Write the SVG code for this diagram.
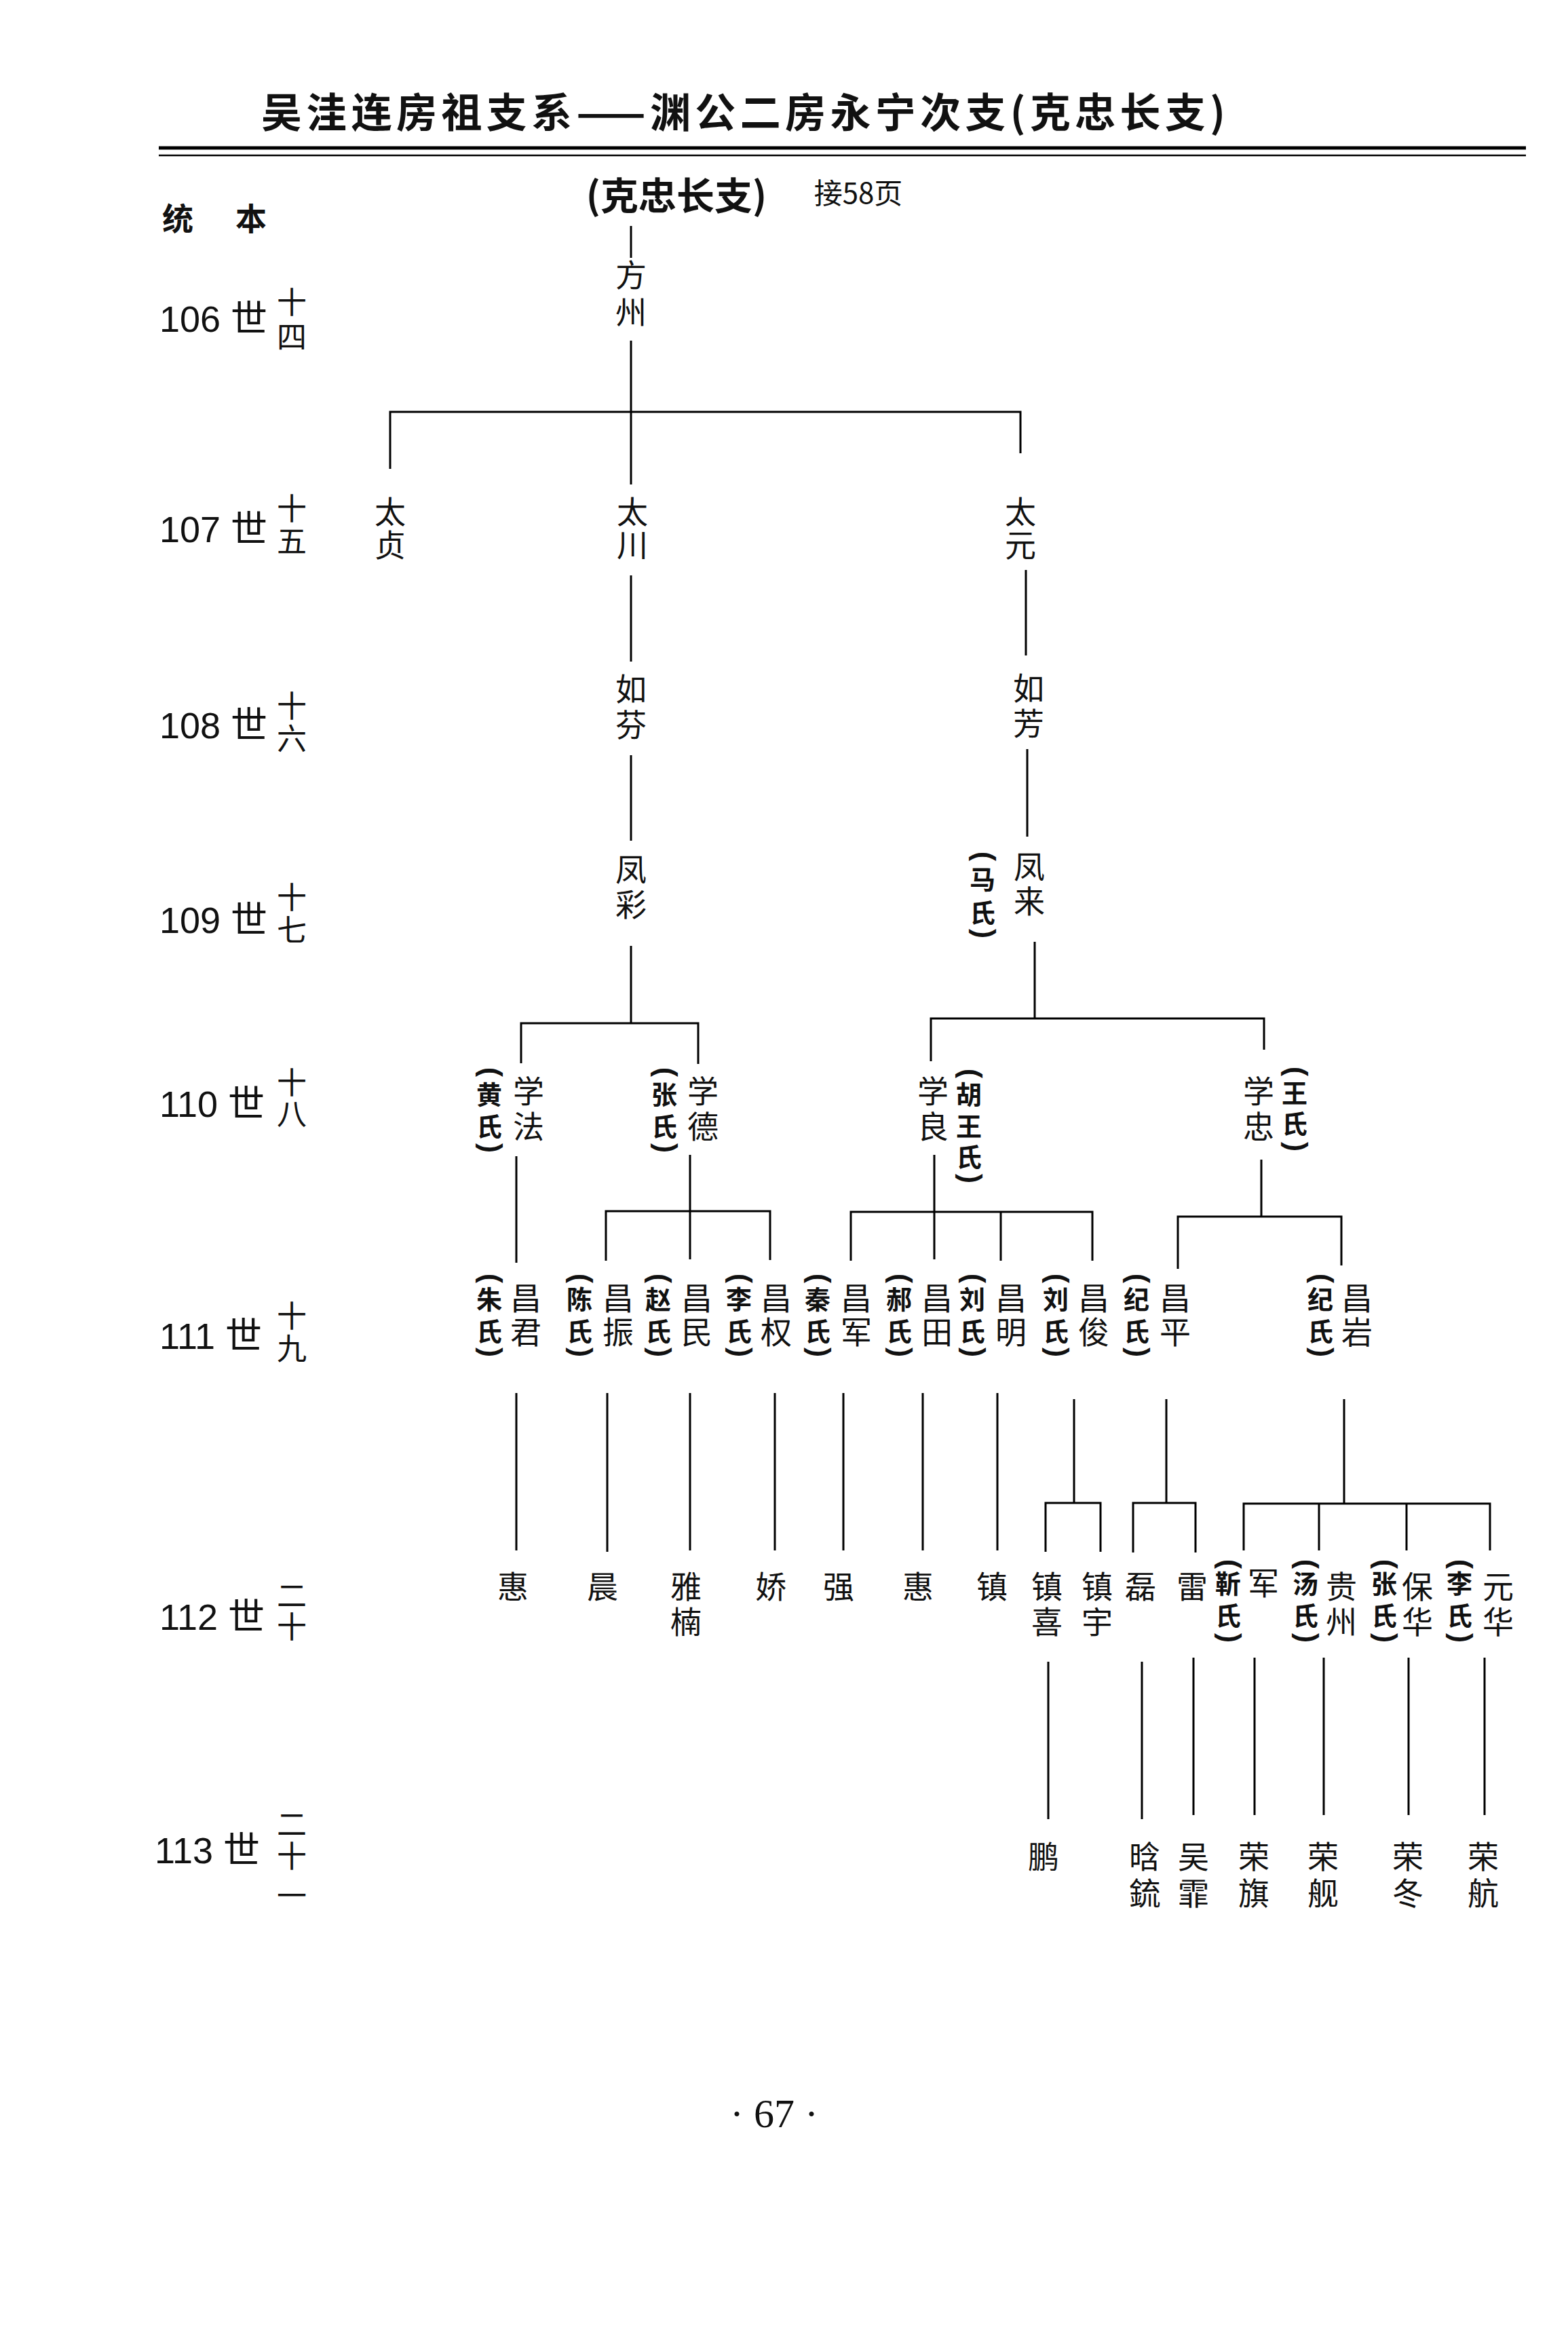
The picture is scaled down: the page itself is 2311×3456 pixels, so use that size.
<svg xmlns="http://www.w3.org/2000/svg" width="2311" height="3456" viewBox="0 0 2311 3456">
<style>
text{fill:#111}
.nm{font-family:"Noto Sans CJK SC","Noto Sans CJK TC",sans-serif;font-size:46px;text-anchor:middle}
.wf{font-family:"Noto Sans CJK SC","Noto Sans CJK TC",sans-serif;font-size:38px;font-weight:bold;text-anchor:middle}
.pl{font-family:"Liberation Sans",sans-serif;font-size:42px;font-weight:bold;text-anchor:middle}
.gen{font-family:"Liberation Sans","Noto Sans CJK SC",sans-serif;font-size:54px}
.ord{font-family:"Noto Sans CJK SC",sans-serif;font-size:44px;text-anchor:middle}
.ln{stroke:#000;stroke-width:3;fill:none}
</style>
<g id="header">
<text x="385" y="188" textLength="1421" lengthAdjust="spacing" style="font-family:'Noto Sans CJK SC',sans-serif;font-size:60px;font-weight:bold">吴洼连房祖支系——渊公二房永宁次支(克忠长支)</text>
<line x1="234" y1="218" x2="2249" y2="218" stroke="#000" stroke-width="5"/>
<line x1="234" y1="229" x2="2249" y2="229" stroke="#000" stroke-width="2.5"/>
<text x="262" y="339" style="font-family:'Noto Sans CJK SC',sans-serif;font-size:46px;font-weight:bold;text-anchor:middle">统</text>
<text x="370" y="339" style="font-family:'Noto Sans CJK SC',sans-serif;font-size:46px;font-weight:bold;text-anchor:middle">本</text>
<text x="997" y="309" style="font-family:'Noto Sans CJK SC',sans-serif;font-size:56px;font-weight:bold;text-anchor:middle">(克忠长支)</text>
<text x="1265" y="300" style="font-family:'Noto Sans CJK SC',sans-serif;font-size:42px;text-anchor:middle">接58页</text>
</g>
<g id="generations">
<text class="gen" x="235" y="489">106 世</text>
<text class="ord" x="430"><tspan x="430" y="462">十</tspan><tspan x="430" y="513">四</tspan></text>
<text class="gen" x="235" y="799">107 世</text>
<text class="ord" x="430"><tspan x="430" y="766">十</tspan><tspan x="430" y="814">五</tspan></text>
<text class="gen" x="235" y="1088">108 世</text>
<text class="ord" x="430"><tspan x="430" y="1057">十</tspan><tspan x="430" y="1105">六</tspan></text>
<text class="gen" x="235" y="1375">109 世</text>
<text class="ord" x="430"><tspan x="430" y="1339">十</tspan><tspan x="430" y="1387">七</tspan></text>
<text class="gen" x="235" y="1646">110 世</text>
<text class="ord" x="430"><tspan x="430" y="1612">十</tspan><tspan x="430" y="1658">八</tspan></text>
<text class="gen" x="235" y="1988">111 世</text>
<text class="ord" x="430"><tspan x="430" y="1956">十</tspan><tspan x="430" y="2004">九</tspan></text>
<text class="gen" x="235" y="2402">112 世</text>
<text class="ord" x="430"><tspan x="430" y="2368">二</tspan><tspan x="430" y="2414">十</tspan></text>
<text class="gen" x="228" y="2746">113 世</text>
<text class="ord" x="430"><tspan x="430" y="2705">二</tspan><tspan x="430" y="2752">十</tspan><tspan x="430" y="2810">一</tspan></text>
</g>
<g id="connectors" class="ln">
<path d="M930 333V380"/>
<path d="M930 502V714M575 691V607H1504V668"/>
<path d="M930 848V975"/>
<path d="M1512 840V966"/>
<path d="M930 1113V1239"/>
<path d="M1514 1104V1233"/>
<path d="M930 1394V1508M768 1567V1508H1029V1568"/>
<path d="M1525 1388V1501M1372 1564V1501H1863V1547"/>
<path d="M761 1704V1861"/>
<path d="M1017 1702V1856M893 1858V1785H1135V1857"/>
<path d="M1377 1702V1856M1254 1858V1786H1610V1858M1475 1786V1858"/>
<path d="M1859 1709V1793M1736 1870V1793H1977V1865"/>
<path d="M761 2053V2285M895 2053V2287M1017 2053V2285M1142 2053V2285M1243 2053V2285M1360 2053V2285M1470 2053V2285"/>
<path d="M1583 2062V2215M1541 2287V2215H1622V2287"/>
<path d="M1719 2062V2215M1670 2288V2215H1762V2288"/>
<path d="M1981 2062V2216M1833 2285V2216H2196V2285M1944 2216V2285M2073 2216V2285"/>
<path d="M1545 2449V2681M1683 2449V2681M1759 2443V2675M1849 2443V2675M1951 2443V2675M2076 2443V2675M2188 2443V2675"/>
</g>
<g id="n-fangzhou"><text class="nm"><tspan x="930" y="422">方</tspan><tspan x="930" y="477">州</tspan></text></g>
<g id="n-taizhen"><text class="nm"><tspan x="575" y="771">太</tspan><tspan x="575" y="820">贞</tspan></text></g>
<g id="n-taichuan"><text class="nm"><tspan x="932" y="771">太</tspan><tspan x="932" y="820">川</tspan></text></g>
<g id="n-taiyuan"><text class="nm"><tspan x="1504" y="771">太</tspan><tspan x="1504" y="820">元</tspan></text></g>
<g id="n-rufen"><text class="nm"><tspan x="930" y="1032">如</tspan><tspan x="930" y="1085">芬</tspan></text></g>
<g id="n-rufang"><text class="nm"><tspan x="1516" y="1031">如</tspan><tspan x="1516" y="1083">芳</tspan></text></g>
<g id="n-fengcai"><text class="nm"><tspan x="930" y="1298">凤</tspan><tspan x="930" y="1350">彩</tspan></text></g>
<g id="n-fenglai"><text class="nm"><tspan x="1517" y="1294">凤</tspan><tspan x="1517" y="1345">来</tspan></text>
<text class="pl" x="1448" y="1273" transform="rotate(90 1448 1262)">(</text><text class="wf"><tspan x="1448" y="1310">马</tspan><tspan x="1448" y="1359">氏</tspan></text><text class="pl" x="1448" y="1387" transform="rotate(90 1448 1376)">)</text></g>
<g id="n-xuefa"><text class="nm"><tspan x="779" y="1625">学</tspan><tspan x="779" y="1677">法</tspan></text>
<text class="pl" x="721" y="1591" transform="rotate(90 721 1580)">(</text><text class="wf"><tspan x="721" y="1627">黄</tspan><tspan x="721" y="1674">氏</tspan></text><text class="pl" x="721" y="1703" transform="rotate(90 721 1692)">)</text></g>
<g id="n-xuede"><text class="nm"><tspan x="1036" y="1625">学</tspan><tspan x="1036" y="1677">德</tspan></text>
<text class="pl" x="979" y="1591" transform="rotate(90 979 1580)">(</text><text class="wf"><tspan x="979" y="1627">张</tspan><tspan x="979" y="1674">氏</tspan></text><text class="pl" x="979" y="1703" transform="rotate(90 979 1692)">)</text></g>
<g id="n-xueliang"><text class="nm"><tspan x="1375" y="1625">学</tspan><tspan x="1375" y="1677">良</tspan></text>
<text class="pl" x="1428" y="1593" transform="rotate(90 1428 1582)">(</text><text class="wf"><tspan x="1428" y="1627">胡</tspan><tspan x="1428" y="1674">王</tspan><tspan x="1428" y="1719">氏</tspan></text><text class="pl" x="1428" y="1748" transform="rotate(90 1428 1737)">)</text></g>
<g id="n-xuezhong"><text class="nm"><tspan x="1855" y="1625">学</tspan><tspan x="1855" y="1677">忠</tspan></text>
<text class="pl" x="1908" y="1590" transform="rotate(90 1908 1579)">(</text><text class="wf"><tspan x="1908" y="1625">王</tspan><tspan x="1908" y="1670">氏</tspan></text><text class="pl" x="1908" y="1701" transform="rotate(90 1908 1690)">)</text></g>
<g id="n-changjun"><text class="nm"><tspan x="775" y="1930">昌</tspan><tspan x="775" y="1980">君</tspan></text>
<text class="pl" x="721" y="1895" transform="rotate(90 721 1884)">(</text><text class="wf"><tspan x="721" y="1929">朱</tspan><tspan x="721" y="1976">氏</tspan></text><text class="pl" x="721" y="2004" transform="rotate(90 721 1993)">)</text></g>
<g id="n-changzhen"><text class="nm"><tspan x="911" y="1930">昌</tspan><tspan x="911" y="1980">振</tspan></text>
<text class="pl" x="854" y="1895" transform="rotate(90 854 1884)">(</text><text class="wf"><tspan x="854" y="1929">陈</tspan><tspan x="854" y="1976">氏</tspan></text><text class="pl" x="854" y="2004" transform="rotate(90 854 1993)">)</text></g>
<g id="n-changmin"><text class="nm"><tspan x="1027" y="1930">昌</tspan><tspan x="1027" y="1980">民</tspan></text>
<text class="pl" x="970" y="1895" transform="rotate(90 970 1884)">(</text><text class="wf"><tspan x="970" y="1929">赵</tspan><tspan x="970" y="1976">氏</tspan></text><text class="pl" x="970" y="2004" transform="rotate(90 970 1993)">)</text></g>
<g id="n-changquan"><text class="nm"><tspan x="1144" y="1930">昌</tspan><tspan x="1144" y="1980">权</tspan></text>
<text class="pl" x="1089" y="1895" transform="rotate(90 1089 1884)">(</text><text class="wf"><tspan x="1089" y="1929">李</tspan><tspan x="1089" y="1976">氏</tspan></text><text class="pl" x="1089" y="2004" transform="rotate(90 1089 1993)">)</text></g>
<g id="n-changjun2"><text class="nm"><tspan x="1262" y="1930">昌</tspan><tspan x="1262" y="1980">军</tspan></text>
<text class="pl" x="1205" y="1895" transform="rotate(90 1205 1884)">(</text><text class="wf"><tspan x="1205" y="1929">秦</tspan><tspan x="1205" y="1976">氏</tspan></text><text class="pl" x="1205" y="2004" transform="rotate(90 1205 1993)">)</text></g>
<g id="n-changtian"><text class="nm"><tspan x="1381" y="1930">昌</tspan><tspan x="1381" y="1980">田</tspan></text>
<text class="pl" x="1325" y="1895" transform="rotate(90 1325 1884)">(</text><text class="wf"><tspan x="1325" y="1929">郝</tspan><tspan x="1325" y="1976">氏</tspan></text><text class="pl" x="1325" y="2004" transform="rotate(90 1325 1993)">)</text></g>
<g id="n-changming"><text class="nm"><tspan x="1490" y="1930">昌</tspan><tspan x="1490" y="1980">明</tspan></text>
<text class="pl" x="1433" y="1895" transform="rotate(90 1433 1884)">(</text><text class="wf"><tspan x="1433" y="1929">刘</tspan><tspan x="1433" y="1976">氏</tspan></text><text class="pl" x="1433" y="2004" transform="rotate(90 1433 1993)">)</text></g>
<g id="n-changjun3"><text class="nm"><tspan x="1612" y="1930">昌</tspan><tspan x="1612" y="1980">俊</tspan></text>
<text class="pl" x="1556" y="1895" transform="rotate(90 1556 1884)">(</text><text class="wf"><tspan x="1556" y="1929">刘</tspan><tspan x="1556" y="1976">氏</tspan></text><text class="pl" x="1556" y="2004" transform="rotate(90 1556 1993)">)</text></g>
<g id="n-changping"><text class="nm"><tspan x="1732" y="1930">昌</tspan><tspan x="1732" y="1980">平</tspan></text>
<text class="pl" x="1675" y="1895" transform="rotate(90 1675 1884)">(</text><text class="wf"><tspan x="1675" y="1929">纪</tspan><tspan x="1675" y="1976">氏</tspan></text><text class="pl" x="1675" y="2004" transform="rotate(90 1675 1993)">)</text></g>
<g id="n-changyan"><text class="nm"><tspan x="2000" y="1930">昌</tspan><tspan x="2000" y="1980">岩</tspan></text>
<text class="pl" x="1946" y="1895" transform="rotate(90 1946 1884)">(</text><text class="wf"><tspan x="1946" y="1929">纪</tspan><tspan x="1946" y="1976">氏</tspan></text><text class="pl" x="1946" y="2004" transform="rotate(90 1946 1993)">)</text></g>
<g id="n-hui1"><text class="nm" x="756" y="2355">惠</text></g>
<g id="n-chen"><text class="nm" x="888" y="2355">晨</text></g>
<g id="n-yanan"><text class="nm"><tspan x="1011" y="2355">雅</tspan><tspan x="1011" y="2407">楠</tspan></text></g>
<g id="n-jiao"><text class="nm" x="1136" y="2355">娇</text></g>
<g id="n-qiang"><text class="nm" x="1236" y="2355">强</text></g>
<g id="n-hui2"><text class="nm" x="1353" y="2355">惠</text></g>
<g id="n-zhen"><text class="nm" x="1462" y="2355">镇</text></g>
<g id="n-zhenxi"><text class="nm"><tspan x="1543" y="2355">镇</tspan><tspan x="1543" y="2407">喜</tspan></text></g>
<g id="n-zhenyu"><text class="nm"><tspan x="1617" y="2355">镇</tspan><tspan x="1617" y="2407">宇</tspan></text></g>
<g id="n-lei1"><text class="nm" x="1681" y="2355">磊</text></g>
<g id="n-lei2"><text class="nm" x="1757" y="2355">雷</text></g>
<g id="n-jun"><text class="nm" x="1862" y="2350">军</text>
<text class="pl" x="1810" y="2316" transform="rotate(90 1810 2305)">(</text><text class="wf"><tspan x="1810" y="2348">靳</tspan><tspan x="1810" y="2395">氏</tspan></text><text class="pl" x="1810" y="2425" transform="rotate(90 1810 2414)">)</text></g>
<g id="n-guizhou"><text class="nm"><tspan x="1977" y="2355">贵</tspan><tspan x="1977" y="2407">州</tspan></text>
<text class="pl" x="1924" y="2316" transform="rotate(90 1924 2305)">(</text><text class="wf"><tspan x="1924" y="2348">汤</tspan><tspan x="1924" y="2395">氏</tspan></text><text class="pl" x="1924" y="2425" transform="rotate(90 1924 2414)">)</text></g>
<g id="n-baohua"><text class="nm"><tspan x="2089" y="2355">保</tspan><tspan x="2089" y="2407">华</tspan></text>
<text class="pl" x="2040" y="2316" transform="rotate(90 2040 2305)">(</text><text class="wf"><tspan x="2040" y="2348">张</tspan><tspan x="2040" y="2395">氏</tspan></text><text class="pl" x="2040" y="2425" transform="rotate(90 2040 2414)">)</text></g>
<g id="n-yuanhua"><text class="nm"><tspan x="2208" y="2355">元</tspan><tspan x="2208" y="2407">华</tspan></text>
<text class="pl" x="2151" y="2316" transform="rotate(90 2151 2305)">(</text><text class="wf"><tspan x="2151" y="2348">李</tspan><tspan x="2151" y="2395">氏</tspan></text><text class="pl" x="2151" y="2425" transform="rotate(90 2151 2414)">)</text></g>
<g id="n-peng"><text class="nm" x="1538" y="2753">鹏</text></g>
<g id="n-hanliu"><text class="nm"><tspan x="1687" y="2753">晗</tspan><tspan x="1687" y="2807">鋶</tspan></text></g>
<g id="n-wufei"><text class="nm"><tspan x="1759" y="2753">吴</tspan><tspan x="1759" y="2807">霏</tspan></text></g>
<g id="n-rongqi"><text class="nm"><tspan x="1848" y="2753">荣</tspan><tspan x="1848" y="2807">旗</tspan></text></g>
<g id="n-rongjian"><text class="nm"><tspan x="1950" y="2753">荣</tspan><tspan x="1950" y="2807">舰</tspan></text></g>
<g id="n-rongdong"><text class="nm"><tspan x="2075" y="2753">荣</tspan><tspan x="2075" y="2807">冬</tspan></text></g>
<g id="n-ronghang"><text class="nm"><tspan x="2186" y="2753">荣</tspan><tspan x="2186" y="2807">航</tspan></text></g>
<g id="footer"><text x="1141" y="3135" style="font-family:'Liberation Serif',serif;font-size:60px;text-anchor:middle">· 67 ·</text></g>
</svg>
